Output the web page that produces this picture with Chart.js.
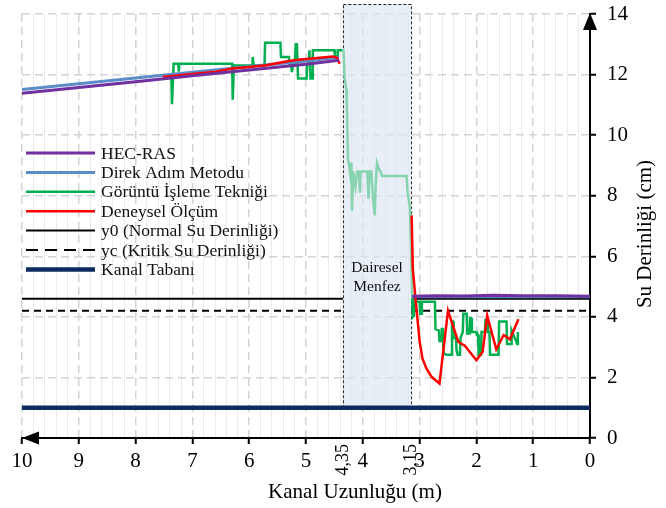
<!DOCTYPE html>
<html>
<head>
<meta charset="utf-8">
<style>
  html, body { margin: 0; padding: 0; background: #fff; }
</style>
<script src="https://cdn.jsdelivr.net/npm/chart.js@4.4.1/dist/chart.umd.min.js"></script>
</head>
<body>
<canvas id="chart" width="666" height="508"></canvas>
<script>
// Su yüzü profilleri - Kanal Uzunluğu (m) / Su Derinliği (cm)

const FONT = "'Liberation Serif', 'Times New Roman', serif";

// HEC-RAS
const hecRasX = [10, 9, 8, 7, 6, 5, 4.6, 4.42, 3.8, 3.13, 2.7, 2.2, 1.7, 1.2, 0.6, 0];
const hecRasY = [11.38, 11.57, 11.76, 11.96, 12.15, 12.34, 12.43, 12.47, null, 4.68, 4.70, 4.69, 4.71, 4.70, 4.70, 4.68];

// Direk Adım Metodu
const direkX = [10, 9, 8, 7, 6, 5, 4.42, 3.8, 3.13, 0];
const direkY = [11.51, 11.70, 11.89, 12.08, 12.27, 12.45, 12.57, null, 4.66, 4.66];

// Görüntü İşleme Tekniği
const goruntuX = [
    7.37, 7.36, 7.33, 7.25, 7.24, 7.23, 6.30, 6.29, 6.27, 5.95, 5.94, 5.92, 5.73, 5.72, 5.45, 5.44,
    5.30, 5.29, 5.26, 5.25, 5.23, 5.20, 5.18, 5.16, 5.14, 4.99, 4.98, 4.95, 4.94, 4.92, 4.89, 4.88,
    4.50, 4.49, 4.45, 4.44, 4.36,
    4.34, 4.32, 4.29, 4.28, 4.26, 4.24, 4.22, 4.20, 4.19, 4.17, 4.13, 4.10, 4.07, 4.05, 4.04, 3.92,
    3.90, 3.88, 3.85, 3.82, 3.79, 3.77, 3.75, 3.72, 3.69, 3.66, 3.23, 3.21, 3.17, 3.13,
    3.12, 3.10, 3.09, 3.00, 2.99, 2.97, 2.96, 2.73, 2.72, 2.66, 2.65, 2.62, 2.61, 2.59, 2.58, 2.53,
    2.44, 2.43, 2.41, 2.40, 2.36, 2.35, 2.33, 2.29, 2.28, 2.24, 2.23, 2.17, 2.16, 2.12, 2.11, 2.09,
    2.08, 2.00, 1.99, 1.97, 1.96, 1.92, 1.91, 1.85, 1.84, 1.81, 1.80, 1.77, 1.76, 1.61, 1.60, 1.47,
    1.46, 1.39, 1.38, 1.28, 1.27
];
const goruntuY = [
    11.95, 11.02, 12.36, 12.36, 12.1, 12.36, 12.36, 11.17, 12.3, 12.3, 12.58, 12.3, 12.3, 13.05, 13.05, 12.58,
    12.58, 12.36, 12.36, 12.08, 12.3, 12.3, 13.0, 13.0, 11.87, 11.87, 12.35, 12.35, 12.8, 11.87, 11.87, 12.8,
    12.8, 12.6, 12.6, 12.8, 12.8,
    12.8, 11.9, 11.5, 10.9, 9.2, 9.0, 8.7, 9.1, 7.5, 8.8, 8.3, 8.8, 8.8, 8.1, 8.8, 8.8,
    7.9, 8.8, 8.8, 7.9, 7.35, 8.5, 9.07, 8.9, 8.8, 8.65, 8.65, 8.1, 7.6, 4.6,
    4.0, 4.05, 4.5, 4.5, 4.1, 4.1, 4.5, 4.5, 3.6, 3.55, 3.2, 3.2, 3.6, 3.6, 2.8, 2.75,
    2.75, 3.85, 3.85, 3.3, 3.3, 2.9, 2.75, 2.75, 3.3, 3.5, 4.1, 4.1, 3.45, 3.45, 3.95, 3.95,
    3.5, 3.5, 3.4, 3.4, 2.75, 2.75, 3.5, 3.5, 3.9, 3.9, 3.5, 3.5, 2.75, 2.75, 3.85, 3.85,
    3.1, 3.1, 3.55, 3.1, 3.5
];

// Deneysel Ölçüm
const deneyselX = [
    7.52, 7.0, 6.58, 6.3, 6.0, 5.7, 5.3, 5.1, 4.8, 4.53, 4.45, 4.41, 3.8,
    3.14, 3.12, 3.07, 3.0, 2.95, 2.88, 2.79, 2.65, 2.50, 2.32, 2.20, 2.00, 1.89, 1.81, 1.65, 1.52, 1.41, 1.26
];
const deneyselY = [
    11.92, 12.02, 12.09, 12.2, 12.25, 12.31, 12.45, 12.5, 12.55, 12.6, 12.55, 12.36, null,
    7.35, 5.6, 4.55, 3.2, 2.63, 2.30, 2.02, 1.80, 4.20, 3.18, 3.04, 2.57, 2.85, 4.04, 2.93, 3.40, 3.26, 3.92
];

// y0, yc ve kanal tabanı
const y0X = [10, 4.35, 3.8, 3.15, 0];
const y0Y = [4.6, 4.6, null, 4.6, 4.6];
const ycX = [10, 4.35, 3.8, 3.15, 0];
const ycY = [4.2, 4.2, null, 4.2, 4.2];
const tabanX = [10, 0];
const tabanY = [1, 1];

// Dairesel menfez
const menfezStart = 4.35;
const menfezEnd = 3.15;
const menfezBottom = 1;
const menfezTop = 14.33;

const xTickExtra = [4.35, 3.15];
const xTickExtraLabels = ['4,35', '3,15'];

const green = '#00b050';
const greenPale = '#88d3b0';

function zip(xs, ys) {
    return xs.map((x, i) => ({ x: x, y: ys[i] }));
}

function isMajor(v) {
    return Math.abs(v - Math.round(v)) < 1e-6;
}

// Menfez kutusu (verinin altında)
const menfezBox = {
    id: 'menfezBox',
    beforeDatasetsDraw(chart) {
        const { ctx, scales: { x, y } } = chart;
        const x1 = x.getPixelForValue(menfezStart);
        const x2 = x.getPixelForValue(menfezEnd);
        const y1 = y.getPixelForValue(menfezTop);
        const y2 = y.getPixelForValue(menfezBottom);
        ctx.save();
        ctx.fillStyle = 'rgba(220, 230, 242, 0.68)';
        ctx.fillRect(x1, y1, x2 - x1, y2 - y1);
        ctx.strokeStyle = '#222';
        ctx.lineWidth = 1;
        ctx.setLineDash([3, 2]);
        ctx.strokeRect(x1 + 0.5, y1 + 0.5, x2 - x1, y2 - y1);
        ctx.restore();
    }
};

// Yazılar, oklar ve açıklama
const decorations = {
    id: 'decorations',
    afterDraw(chart) {
        const { ctx, chartArea, scales: { x, y } } = chart;
        ctx.save();

        // Menfez yazısı
        const cx = (x.getPixelForValue(menfezStart) + x.getPixelForValue(menfezEnd)) / 2;
        ctx.fillStyle = '#111';
        ctx.font = '15.5px ' + FONT;
        ctx.textAlign = 'center';
        ctx.textBaseline = 'middle';
        ctx.fillText('Dairesel', cx, 268);
        ctx.fillText('Menfez', cx, 287);

        // Oklar
        ctx.fillStyle = '#000';
        const ax = x.getPixelForValue(10);
        const ay = y.getPixelForValue(0);
        ctx.beginPath();
        ctx.moveTo(ax, ay);
        ctx.lineTo(ax + 17, ay - 6.5);
        ctx.lineTo(ax + 17, ay + 6.5);
        ctx.closePath();
        ctx.fill();
        const bx = chartArea.right;
        const by = y.getPixelForValue(14) - 1;
        ctx.beginPath();
        ctx.moveTo(bx, by);
        ctx.lineTo(bx - 7, by + 17);
        ctx.lineTo(bx + 7, by + 17);
        ctx.closePath();
        ctx.fill();

        // Dikey etiketler 4,35 ve 3,15
        ctx.font = '18px ' + FONT;
        ctx.textAlign = 'right';
        ctx.textBaseline = 'middle';
        xTickExtra.forEach((v, i) => {
            ctx.save();
            ctx.translate(x.getPixelForValue(v), chartArea.bottom + 6);
            ctx.rotate(-Math.PI / 2);
            ctx.fillText(xTickExtraLabels[i], 0, 0);
            ctx.restore();
        });

        // Eksen başlıkları
        ctx.font = '21px ' + FONT;
        ctx.textAlign = 'center';
        ctx.textBaseline = 'middle';
        ctx.fillText('Kanal Uzunluğu (m)', 355, 492);
        ctx.save();
        ctx.translate(645, 234);
        ctx.rotate(-Math.PI / 2);
        ctx.fillText('Su Derinliği (cm)', 0, 0);
        ctx.restore();

        // Açıklama
        ctx.font = '17.5px ' + FONT;
        ctx.textAlign = 'left';
        chart.data.datasets.forEach((ds, i) => {
            const ly = 153 + i * 19.4;
            ctx.save();
            ctx.strokeStyle = ds.borderColor;
            ctx.lineWidth = ds.borderWidth;
            ctx.setLineDash(ds.borderDash ? [12, 7] : []);
            ctx.beginPath();
            ctx.moveTo(26, ly);
            ctx.lineTo(95, ly);
            ctx.stroke();
            ctx.restore();
            ctx.fillStyle = '#111';
            ctx.fillText(ds.label, 101, ly + 1);
        });

        ctx.restore();
    }
};

const ctx = document.getElementById('chart').getContext('2d');

new Chart(ctx, {
    type: 'line',
    data: {
        datasets: [
            {
                label: 'HEC-RAS',
                data: zip(hecRasX, hecRasY),
                borderColor: '#7030a0',
                borderWidth: 3,
                order: 1
            },
            {
                label: 'Direk Adım Metodu',
                data: zip(direkX, direkY),
                borderColor: '#5b8cc8',
                borderWidth: 3,
                order: 3
            },
            {
                label: 'Görüntü İşleme Tekniği',
                data: zip(goruntuX, goruntuY),
                borderColor: green,
                borderWidth: 2.5,
                order: 4,
                segment: {
                    borderColor: c => {
                        const mid = (c.p0.parsed.x + c.p1.parsed.x) / 2;
                        return (mid <= menfezStart && mid >= menfezEnd - 0.01) ? greenPale : green;
                    }
                }
            },
            {
                label: 'Deneysel Ölçüm',
                data: zip(deneyselX, deneyselY),
                borderColor: '#ff0000',
                borderWidth: 2.5,
                order: 2
            },
            {
                label: 'y0 (Normal Su Derinliği)',
                data: zip(y0X, y0Y),
                borderColor: '#000',
                borderWidth: 2,
                order: 5
            },
            {
                label: 'yc (Kritik Su Derinliği)',
                data: zip(ycX, ycY),
                borderColor: '#000',
                borderWidth: 2,
                borderDash: [7, 5],
                order: 6
            },
            {
                label: 'Kanal Tabanı',
                data: zip(tabanX, tabanY),
                borderColor: '#0d2b5e',
                borderWidth: 4.5,
                order: 7
            }
        ]
    },
    options: {
        responsive: false,
        animation: false,
        spanGaps: false,
        layout: { padding: { left: 22, top: 14, right: 0, bottom: 0 } },
        elements: {
            point: { radius: 0 },
            line: { tension: 0, borderCapStyle: 'butt' }
        },
        plugins: {
            legend: { display: false },
            tooltip: { enabled: false }
        },
        scales: {
            x: {
                type: 'linear',
                reverse: true,
                min: 0,
                max: 10,
                afterFit: (scale) => {
                    scale.height = 70;
                    scale.paddingLeft = 0;
                    scale.paddingRight = 0;
                },
                ticks: {
                    stepSize: 0.2,
                    autoSkip: false,
                    maxRotation: 0,
                    padding: 5,
                    color: '#000',
                    font: { family: FONT, size: 21 },
                    callback: (v) => isMajor(v) ? String(Math.round(v)) : ''
                },
                grid: {
                    color: (c) => isMajor(c.tick.value) ? '#d4d4d4' : '#ebebeb',
                    lineWidth: (c) => isMajor(c.tick.value) ? 1.5 : 1,
                    tickColor: (c) => isMajor(c.tick.value) ? '#000' : 'rgba(0,0,0,0)',
                    tickLength: 6,
                    tickWidth: 2
                },
                border: {
                    color: '#000',
                    width: 2,
                    dash: (c) => (c.tick && isMajor(c.tick.value)) ? [8, 5] : []
                }
            },
            y: {
                type: 'linear',
                position: 'right',
                min: 0,
                max: 14,
                afterFit: (scale) => {
                    scale.width = 76;
                    scale.paddingTop = 0;
                    scale.paddingBottom = 0;
                },
                ticks: {
                    stepSize: 2,
                    padding: 11,
                    color: '#000',
                    font: { family: FONT, size: 21 }
                },
                grid: {
                    color: '#d4d4d4',
                    lineWidth: 1.5,
                    tickColor: '#000',
                    tickLength: 6,
                    tickWidth: 2
                },
                border: {
                    color: '#000',
                    width: 2,
                    dash: (c) => c.tick ? [8, 5] : []
                }
            }
        }
    },
    plugins: [menfezBox, decorations]
});
</script>
</body>
</html>
